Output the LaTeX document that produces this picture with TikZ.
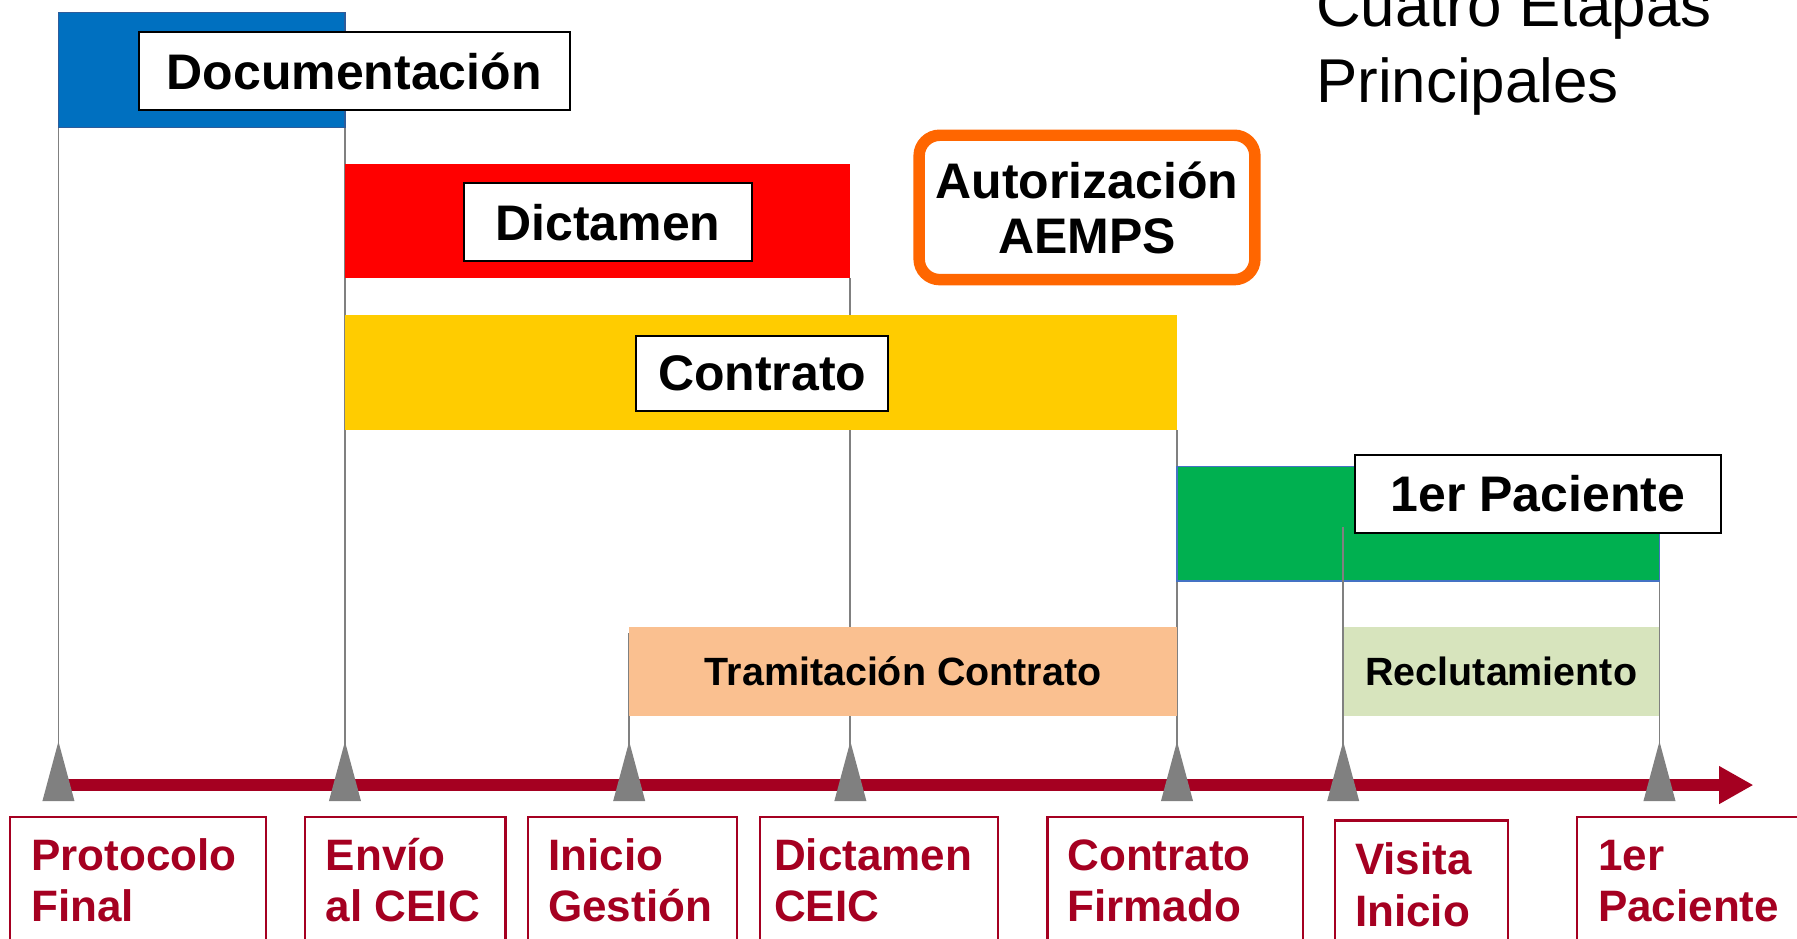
\documentclass[tikz,border=0pt]{standalone}
\usepackage{fontspec}
\setmainfont{Liberation Sans}
\usetikzlibrary{fit,arrows.meta}
\definecolor{docblue}{HTML}{0070C0}
\definecolor{docedge}{HTML}{2E5C9A}
\definecolor{dictred}{HTML}{FF0000}
\definecolor{contryel}{HTML}{FFCC00}
\definecolor{pacgreen}{HTML}{00B050}
\definecolor{pacedge}{HTML}{4472C4}
\definecolor{tramorange}{HTML}{FAC090}
\definecolor{reclgreen}{HTML}{D7E4BD}
\definecolor{aempsorange}{HTML}{FF6600}
\definecolor{darkred}{HTML}{A50021}
\definecolor{linegray}{HTML}{808080}
\newcommand\labfont{\fontsize{21.8pt}{24pt}\selectfont\bfseries}
\newcommand\midfont{\fontsize{17.2pt}{20pt}\selectfont\bfseries}
\newcommand\botfont{\fontsize{19.2pt}{22.5pt}\selectfont\bfseries}
\newcommand\ttlfont{\fontsize{27pt}{33pt}\selectfont}
\begin{document}
\begin{tikzpicture}[x=0.5pt,y=-0.5pt,
  bar/.style={inner sep=0pt, outer sep=0pt},
  tag/.style={draw=black, line width=0.9pt, fill=white, inner sep=0pt, font=\labfont},
  vline/.style={draw=linegray, line width=0.8pt},
  ms/.style={fill=linegray},
  botbox/.style={draw=darkred, line width=1pt, fill=white, inner sep=0pt},
  bottext/.style={text=darkred, font=\botfont, align=left, anchor=north west, inner sep=0pt},
  timeline/.style={draw=darkred, line width=5pt, -{Triangle[length=15pt,width=15.5pt]}}
]
\clip (0,0) rectangle (1568,819);
\fill[white] (0,0) rectangle (1568,819);

% milestones (base centres)
\coordinate (t1) at (51,699);
\coordinate (t2) at (301,699);
\coordinate (t3) at (549,699);
\coordinate (t4) at (742,699);
\coordinate (t5) at (1027,699);
\coordinate (t6) at (1172,699);
\coordinate (t7) at (1448,699);
\coordinate (v6) at (1172,460);

% gray lines behind bars
\draw[vline] (51,11) -- (t1);
\draw[vline] (301,111) -- (t2);
\draw[vline] (549,552) -- (t3);
\draw[vline] (742,243) -- (t4);
\draw[vline] (1027,375) -- (t5);
\draw[vline] (1448,507) -- (t7);

% title
\node[anchor=north west, inner sep=0pt, align=left, font=\ttlfont] (title) at (1148,-21)
  {\rule{0pt}{22pt}Cuatro Etapas\\Principales};

% stage bars
\node[bar, fill=docblue, draw=docedge, line width=0.6pt, fit={(51,11) (301,111)}] (doc) {};
\node[bar, fill=dictred, fit={(301,143) (742,243)}] (dict) {};
\node[bar, fill=contryel, fit={(301,275) (1027,375)}] (contr) {};
\node[bar, fill=pacgreen, draw=pacedge, line width=0.6pt, fit={(1027,407) (1448,507)}] (pac) {};
\node[bar, fill=tramorange, font=\midfont, minimum width=239pt, minimum height=39pt] (tram) at (788,586) {Tramitación Contrato};
\node[bar, fill=reclgreen, font=\midfont, minimum width=138pt, minimum height=39pt] (recl) at (1310,586) {Reclutamiento};

% label boxes
\node[tag, minimum width=188pt, minimum height=34pt] (doctag) at (309,62) {Documentación};
\node[tag, minimum width=125.5pt, minimum height=34pt] (dicttag) at (530.5,194) {Dictamen};
\node[tag, minimum width=110pt, minimum height=33pt] (contrtag) at (665,326) {Contrato};
\node[tag, minimum width=160pt, minimum height=34pt] (pactag) at (1342,431) {1er Paciente};

% AEMPS
\node[draw=aempsorange, line width=5pt, rounded corners=9pt, fill=white, inner sep=0pt,
  font=\labfont, align=center, minimum width=146.5pt, minimum height=63pt] (aemps)
  at (948.5,181) {Autorización\\AEMPS};

% line over green bar
\draw[vline] (v6) -- (t6);

% timeline
\coordinate (tl0) at (51,685);
\coordinate (tl1) at (1530,685);
\draw[timeline] (tl0) -- (tl1);

% milestone triangles
\foreach \m in {t1,t2,t3,t4,t5,t6,t7}{
  \fill[ms] (\m) ++(-14,0) -- ++(14,-52) -- ++(14,52) -- cycle;
}

% bottom boxes
\node[botbox, fit={(9,713) (232,860)}] (b1) {};
\node[botbox, fit={(266,713) (441,860)}] (b2) {};
\node[botbox, fit={(461,713) (643,860)}] (b3) {};
\node[botbox, fit={(663,713) (871,860)}] (b4) {};
\node[botbox, fit={(914,713) (1137,860)}] (b5) {};
\node[botbox, fit={(1165,716) (1316,860)}] (b6) {};
\node[botbox, fit={(1376,713) (1620,860)}] (b7) {};

\node[bottext] (l1) at (27,723) {\rule{0pt}{18pt}Protocolo\\Final};
\node[bottext] (l2) at (284,723) {\rule{0pt}{18pt}Envío\\al CEIC};
\node[bottext] (l3) at (478,723) {\rule{0pt}{18pt}Inicio\\Gestión};
\node[bottext] (l4) at (675,723) {\rule{0pt}{18pt}Dictamen\\CEIC};
\node[bottext] (l5) at (931,723) {\rule{0pt}{18pt}Contrato\\Firmado};
\node[bottext] (l6) at (1182,727) {\rule{0pt}{18pt}Visita\\Inicio};
\node[bottext] (l7) at (1394,723) {\rule{0pt}{18pt}1er\\Paciente};
\end{tikzpicture}
\end{document}
